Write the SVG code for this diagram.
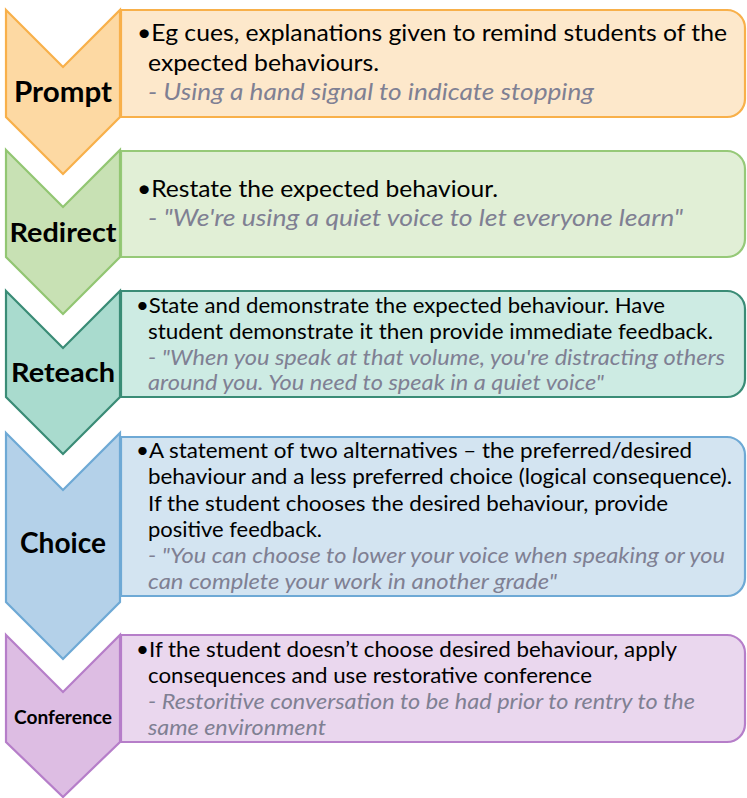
<svg xmlns="http://www.w3.org/2000/svg" width="747" height="798" viewBox="0 0 747 798">
<style>
  .lbl { font-family: Lato, "Open Sans", "Liberation Sans", sans-serif; font-weight: bold; fill: #000; text-anchor: middle; }
  .b { font-family: Lato, "Open Sans", "Liberation Sans", sans-serif; fill: #000; }
  .i { font-family: Lato, "Open Sans", "Liberation Sans", sans-serif; font-style: italic; fill: #7f8093; }
  .sw { stroke-width: 2.2; stroke-linejoin: miter; }
</style>
<rect width="747" height="798" fill="#ffffff"/>

<g id="prompt">
  <path class="sw" d="M121,10 H727 A18,18 0 0 1 745,28 V99 A18,18 0 0 1 727,117 H121 Z" fill="#fde8cb" stroke="#f8b04a"/>
  <path class="sw" d="M6,10 L63,67 L120,10 V117 L63,174 L6,117 Z" fill="#fdd9a3" stroke="#f8b04a"/>
  <text class="lbl" x="63" y="102" font-size="28" textLength="98" lengthAdjust="spacingAndGlyphs">Prompt</text>
  <text class="b" x="137" y="41" font-size="23" textLength="590" lengthAdjust="spacingAndGlyphs">•Eg cues, explanations given to remind students of the</text>
  <text class="b" x="148" y="71" font-size="23" textLength="231" lengthAdjust="spacingAndGlyphs">expected behaviours.</text>
  <text class="i" x="148" y="100" font-size="23" textLength="446" lengthAdjust="spacingAndGlyphs">- Using a hand signal to indicate stopping</text>
</g>

<g id="redirect">
  <path class="sw" d="M121,151 H727 A18,18 0 0 1 745,169 V239 A18,18 0 0 1 727,257 H121 Z" fill="#e1efd6" stroke="#96c978"/>
  <path class="sw" d="M6,150 L63,207 L120,150 V257 L63,314 L6,257 Z" fill="#c8e1b4" stroke="#92c672"/>
  <text class="lbl" x="63" y="242" font-size="26" textLength="107" lengthAdjust="spacingAndGlyphs">Redirect</text>
  <text class="b" x="137" y="197" font-size="23" textLength="361" lengthAdjust="spacingAndGlyphs">•Restate the expected behaviour.</text>
  <text class="i" x="148" y="226" font-size="23" textLength="535" lengthAdjust="spacingAndGlyphs">- "We're using a quiet voice to let everyone learn"</text>
</g>

<g id="reteach">
  <path class="sw" d="M121,291 H727 A18,18 0 0 1 745,309 V379 A18,18 0 0 1 727,397 H121 Z" fill="#cdebe3" stroke="#3a8c76"/>
  <path class="sw" d="M6,291 L63,348 L120,291 V397 L63,454 L6,397 Z" fill="#a9dbce" stroke="#3a8c76"/>
  <text class="lbl" x="63" y="382" font-size="26" textLength="104" lengthAdjust="spacingAndGlyphs">Reteach</text>
  <text class="b" x="136" y="313" font-size="21" textLength="529" lengthAdjust="spacingAndGlyphs">•State and demonstrate the expected behaviour. Have</text>
  <text class="b" x="148" y="339" font-size="21" textLength="565" lengthAdjust="spacingAndGlyphs">student demonstrate it then provide immediate feedback.</text>
  <text class="i" x="148" y="365" font-size="21" textLength="577" lengthAdjust="spacingAndGlyphs">- "When you speak at that volume, you're distracting others</text>
  <text class="i" x="148" y="390" font-size="21" textLength="456" lengthAdjust="spacingAndGlyphs">around you. You need to speak in a quiet voice"</text>
</g>

<g id="choice">
  <path class="sw" d="M121,437 H727 A18,18 0 0 1 745,455 V578 A18,18 0 0 1 727,596 H121 Z" fill="#d3e4f1" stroke="#6ea9d5"/>
  <path class="sw" d="M6,433 L63,490 L120,433 V602 L63,659 L6,602 Z" fill="#b4d1e9" stroke="#6ea9d5"/>
  <text class="lbl" x="63" y="553" font-size="28" textLength="86" lengthAdjust="spacingAndGlyphs">Choice</text>
  <text class="b" x="136" y="458" font-size="21" textLength="556" lengthAdjust="spacingAndGlyphs">•A statement of two alternatives – the preferred/desired</text>
  <text class="b" x="148" y="484" font-size="21" textLength="584" lengthAdjust="spacingAndGlyphs">behaviour and a less preferred choice (logical consequence).</text>
  <text class="b" x="148" y="511" font-size="21" textLength="520" lengthAdjust="spacingAndGlyphs">If the student chooses the desired behaviour, provide</text>
  <text class="b" x="148" y="537" font-size="21" textLength="174" lengthAdjust="spacingAndGlyphs">positive feedback.</text>
  <text class="i" x="148" y="563" font-size="21" textLength="577" lengthAdjust="spacingAndGlyphs">- "You can choose to lower your voice when speaking or you</text>
  <text class="i" x="148" y="589" font-size="21" textLength="409" lengthAdjust="spacingAndGlyphs">can complete your work in another grade"</text>
</g>

<g id="conference">
  <path class="sw" d="M121,635 H727 A18,18 0 0 1 745,653 V724 A18,18 0 0 1 727,742 H121 Z" fill="#ead7ee" stroke="#b67ec9"/>
  <path class="sw" d="M6,635 L63,692 L120,635 V742 L63,797 L6,742 Z" fill="#ddbde3" stroke="#b67ec9"/>
  <text class="lbl" x="63" y="724" font-size="18" textLength="98" lengthAdjust="spacingAndGlyphs">Conference</text>
  <text class="b" x="136" y="657" font-size="21" textLength="541" lengthAdjust="spacingAndGlyphs">•If the student doesn’t choose desired behaviour, apply</text>
  <text class="b" x="148" y="683" font-size="21" textLength="444" lengthAdjust="spacingAndGlyphs">consequences and use restorative conference</text>
  <text class="i" x="148" y="709" font-size="21" textLength="547" lengthAdjust="spacingAndGlyphs">- Restoritive conversation to be had prior to rentry to the</text>
  <text class="i" x="148" y="735" font-size="21" textLength="178" lengthAdjust="spacingAndGlyphs">same environment</text>
</g>

<g id="connectors"></g>
</svg>
